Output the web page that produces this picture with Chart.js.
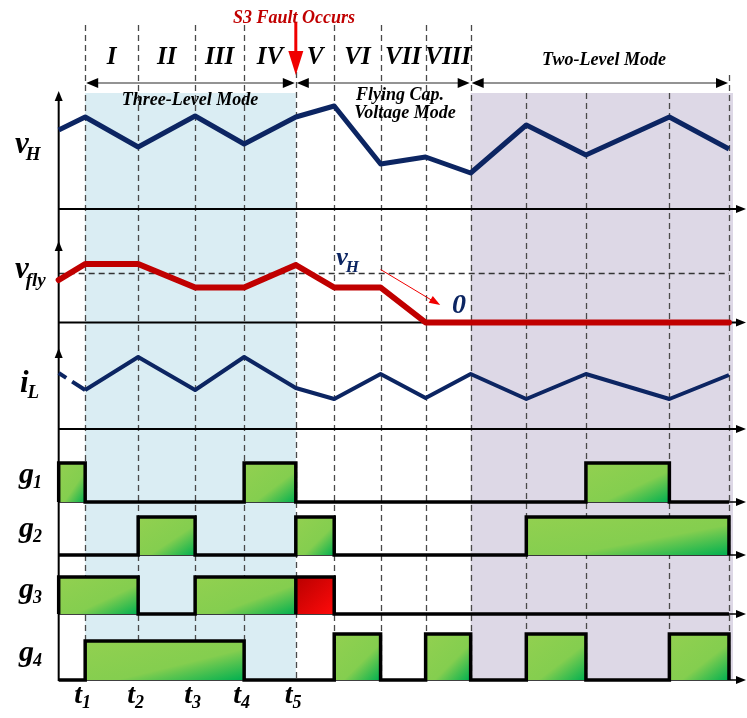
<!DOCTYPE html>
<html>
<head>
<meta charset="utf-8">
<script src="https://cdn.jsdelivr.net/npm/chart.js@4.4.1/dist/chart.umd.min.js"></script>
<style>
  html, body { margin: 0; padding: 0; background: #fff; }
  #wrap { width: 747px; height: 718px; }
</style>
</head>
<body>
<div id="wrap"><canvas id="timing" width="747" height="718"></canvas></div>
<script>
// Моменты переключения (границы интервалов I..VIII и далее), усл. ед. времени
const tMarks = [0, 1, 3, 5.15, 7, 8.95, 10.4, 12.15, 13.85, 15.55, 17.65, 19.9, 23.05, 25.3];
const intervalLabels = ['I', 'II', 'III', 'IV', 'V', 'VI', 'VII', 'VIII'];
const timeLabels = ['1', '2', '3', '4', '5'];

// Сигналы в точках tMarks
const vH = [7.9, 9.2, 6.2, 9.3, 6.5, 9.2, 10.3, 4.5, 5.2, 3.6, 8.4, 5.4, 9.2, 6.0];
const vFly = [4.25, 5.85, 5.85, 3.5, 3.5, 5.75, 3.5, 3.5, 0, 0, 0, 0, 0, 0];
const iL = [5.6, 3.9, 7.2, 3.9, 7.2, 4.1, 3.0, 5.5, 3.1, 5.5, 3.0, 5.5, 3.0, 5.4];
const vFlyRef = 4.9;

// Импульсы управления: [начало, конец, уровень]
const g1Pulses = [[0, 1, 1], [7, 8.95, 1], [19.9, 23.05, 1]];
const g2Pulses = [[3, 5.15, 1], [8.95, 10.4, 1], [17.65, 25.3, 1]];
const g3Pulses = [[0, 3, 1], [5.15, 8.95, 1]];
const g3FaultPulses = [[8.95, 10.4, 1]];
const g4Pulses = [[1, 7, 1], [10.4, 12.15, 1.18], [13.85, 15.55, 1.18], [17.65, 19.9, 1.18], [23.05, 25.3, 1.18]];

// Режимы работы
const modeNames = ['Three-Level Mode', 'Flying Cap. Voltage Mode', 'Two-Level Mode'];
const modeEdges = [1, 8.95, 15.55, 25.3];
const faultTime = 8.95;

// Разметка (пиксели холста)
const W = 747, H = 718;
const rows = {
  yVH: { base: 209, unit: 10, tip: 91 },
  yFly: { base: 322.5, unit: 10, tip: 241 },
  yIL: { base: 429, unit: 10, tip: 348 },
  yG1: { base: 502, unit: 39 },
  yG2: { base: 555, unit: 38 },
  yG3: { base: 614, unit: 37 },
  yG4: { base: 680, unit: 39 },
};

const NAVY = '#0C2562';
const RED = '#C00000';
const FONT = '"Liberation Serif", "Times New Roman", serif';

function toPoints(values) {
  return values.map((v, i) => ({ x: tMarks[i], y: v }));
}

function stepWave(pulses, end) {
  const pts = [{ x: tMarks[0], y: 0 }];
  pulses.forEach(([s, e, lv]) => {
    pts.push({ x: s, y: 0 }, { x: s, y: lv }, { x: e, y: lv }, { x: e, y: 0 });
  });
  pts.push({ x: end, y: 0 });
  return pts;
}

function pulseGradient(context, p, axisId, stops) {
  const chart = context.chart;
  const xs = chart.scales.x;
  const ys = chart.scales[axisId];
  if (!chart.chartArea || !xs || !ys) return stops[0][1];
  const x0 = xs.getPixelForValue(p[0]);
  const x1 = xs.getPixelForValue(p[1]);
  const y0 = ys.getPixelForValue(p[2]);
  const y1 = ys.getPixelForValue(0);
  const w = x1 - x0, h = y1 - y0;
  const d = Math.hypot(w, h);
  const L = (2 * w * h) / d;
  const g = chart.ctx.createLinearGradient(x0, y0, x0 + (h / d) * L, y0 + (w / d) * L);
  stops.forEach(([o, c]) => g.addColorStop(o, c));
  return g;
}

const GREEN = [[0, '#92D050'], [0.6, '#84CE4F'], [1, '#00B050']];
const REDFILL = [[0, '#B80000'], [1, '#FF0A0A']];

function pulseSets(pulses, axisId, stops) {
  return pulses.map((p) => ({
    type: 'line',
    data: [{ x: p[0], y: 0 }, { x: p[0], y: p[2] }, { x: p[1], y: p[2] }, { x: p[1], y: 0 }],
    yAxisID: axisId,
    borderWidth: 0,
    pointRadius: 0,
    fill: 'origin',
    backgroundColor: (ctx) => pulseGradient(ctx, p, axisId, stops),
    order: 2,
  }));
}

function gateWave(pulses, axisId) {
  return {
    type: 'line',
    data: stepWave(pulses, tMarks[tMarks.length - 1]),
    yAxisID: axisId,
    borderColor: '#000',
    borderWidth: 3.5,
    borderJoinStyle: 'miter',
    pointRadius: 0,
    fill: false,
    order: 0,
  };
}

function rowAxis(r) {
  return { type: 'linear', display: false, min: (r.base - H) / r.unit, max: r.base / r.unit };
}

function arrowHead(ctx, x, y, dir, len, half, color) {
  ctx.save();
  ctx.fillStyle = color;
  ctx.beginPath();
  if (dir === 'right') { ctx.moveTo(x, y); ctx.lineTo(x - len, y - half); ctx.lineTo(x - len, y + half); }
  if (dir === 'left') { ctx.moveTo(x, y); ctx.lineTo(x + len, y - half); ctx.lineTo(x + len, y + half); }
  if (dir === 'up') { ctx.moveTo(x, y); ctx.lineTo(x - half, y + len); ctx.lineTo(x + half, y + len); }
  if (dir === 'down') { ctx.moveTo(x, y); ctx.lineTo(x - half, y - len); ctx.lineTo(x + half, y - len); }
  ctx.closePath();
  ctx.fill();
  ctx.restore();
}

function subText(ctx, main, sub, x, y, size, subSize, dy, color, kern) {
  ctx.fillStyle = color;
  ctx.textAlign = 'left';
  ctx.textBaseline = 'alphabetic';
  ctx.font = `italic bold ${size}px ${FONT}`;
  ctx.fillText(main, x, y);
  const w = ctx.measureText(main).width;
  ctx.font = `italic bold ${subSize}px ${FONT}`;
  ctx.fillText(sub, x + w + (kern || 0), y + dy);
}

// Фон, пунктиры, оси — под графиками
const backgroundLayer = {
  id: 'backgroundLayer',
  beforeDatasetsDraw(chart) {
    const { ctx, scales } = chart;
    const X = (t) => scales.x.getPixelForValue(t);
    const shadeTop = 93;
    const shadeBottom = scales.yG4.getPixelForValue(0);
    ctx.save();
    // зоны режимов
    ctx.fillStyle = '#DAEDF3';
    ctx.fillRect(X(modeEdges[0]), shadeTop, X(modeEdges[1]) - X(modeEdges[0]), shadeBottom - shadeTop);
    ctx.fillStyle = '#DDD8E6';
    ctx.fillRect(X(modeEdges[2]), shadeTop, X(modeEdges[3]) + 4 - X(modeEdges[2]), shadeBottom - shadeTop);

    // вертикальные пунктиры
    ctx.strokeStyle = '#4a4a4a';
    ctx.lineWidth = 1.3;
    ctx.setLineDash([6, 4]);
    tMarks.slice(1).forEach((t, k) => {
      const i = k + 1;
      let y0 = 25;
      if (t === faultTime) y0 = 72;
      if (i >= 10 && i <= 12) y0 = shadeTop;
      if (i === 13) y0 = 75;
      const x = Math.round(X(t)) + 0.5;
      ctx.beginPath();
      ctx.moveTo(x, y0);
      ctx.lineTo(x, shadeBottom);
      ctx.stroke();
    });

    // горизонтальный пунктир уровня vH/2
    const yRef = scales.yFly.getPixelForValue(vFlyRef);
    ctx.strokeStyle = '#333';
    ctx.beginPath();
    ctx.moveTo(X(tMarks[0]), yRef);
    ctx.lineTo(X(tMarks[13]), yRef);
    ctx.stroke();
    ctx.setLineDash([]);

    // оси
    const xAxis = X(tMarks[0]);
    const xEnd = W - 2;
    ctx.strokeStyle = '#000';
    ctx.lineWidth = 2;
    ctx.beginPath();
    ctx.moveTo(xAxis, rows.yVH.tip + 6);
    ctx.lineTo(xAxis, shadeBottom + 1);
    ctx.stroke();
    Object.keys(rows).forEach((id) => {
      const y = scales[id].getPixelForValue(0);
      ctx.lineWidth = id.startsWith('yG') ? 1.6 : 2;
      ctx.beginPath();
      ctx.moveTo(xAxis, y);
      ctx.lineTo(xEnd - 6, y);
      ctx.stroke();
    });
    ctx.restore();
  },
  afterDatasetsDraw(chart) {
    const { ctx, scales } = chart;
    const X = (t) => scales.x.getPixelForValue(t);
    const xAxis = X(tMarks[0]);
    ctx.save();

    // стрелки осей
    Object.keys(rows).forEach((id) => {
      const r = rows[id];
      const y = scales[id].getPixelForValue(0);
      arrowHead(ctx, W - 1, y, 'right', 10, 4, '#000');
      if (r.tip) arrowHead(ctx, xAxis, r.tip, 'up', 10, 4, '#000');
    });

    // стрелки режимов
    const yMode = 83;
    ctx.strokeStyle = '#6f6f6f';
    ctx.lineWidth = 1.5;
    for (let m = 0; m < modeNames.length; m++) {
      const a = X(modeEdges[m]), b = X(modeEdges[m + 1]);
      ctx.beginPath();
      ctx.moveTo(a + 4, yMode);
      ctx.lineTo(b - 4, yMode);
      ctx.stroke();
      arrowHead(ctx, a + 1, yMode, 'left', 12, 5, '#000');
      arrowHead(ctx, b - 1, yMode, 'right', 12, 5, '#000');
    }

    // стрелка аварии S3
    const xf = X(faultTime);
    ctx.strokeStyle = '#F00000';
    ctx.lineWidth = 3;
    ctx.beginPath();
    ctx.moveTo(xf, 22);
    ctx.lineTo(xf, 52);
    ctx.stroke();
    arrowHead(ctx, xf, 75, 'down', 24, 7.5, '#F00000');

    // подписи интервалов
    ctx.fillStyle = '#000';
    ctx.textAlign = 'center';
    ctx.textBaseline = 'middle';
    ctx.font = `italic bold 25px ${FONT}`;
    intervalLabels.forEach((lab, i) => {
      ctx.fillText(lab, (X(tMarks[i + 1]) + X(tMarks[i + 2])) / 2, 58);
    });

    // подписи режимов
    ctx.font = `italic bold 18px ${FONT}`;
    ctx.fillText(modeNames[0], 190, 100);
    ctx.fillText('Flying Cap.', 400, 95);
    ctx.fillText('Voltage Mode', 405, 113);
    ctx.fillText(modeNames[2], 604, 60);

    ctx.fillStyle = RED;
    ctx.fillText('S3 Fault Occurs', 294, 18);

    // подписи строк
    subText(ctx, 'v', 'H', 15, 153, 31, 19, 7, '#000', -3);
    subText(ctx, 'v', 'fly', 15, 278, 31, 19, 8, '#000', -3);
    subText(ctx, 'i', 'L', 20, 392, 31, 19, 6, '#000', -1);
    subText(ctx, 'g', '1', 19, 483, 30, 18, 5, '#000', -1);
    subText(ctx, 'g', '2', 19, 537, 30, 18, 5, '#000', -1);
    subText(ctx, 'g', '3', 19, 598, 30, 18, 5, '#000', -1);
    subText(ctx, 'g', '4', 19, 661, 30, 18, 5, '#000', -1);

    // моменты t1..t5
    timeLabels.forEach((s, i) => {
      subText(ctx, 't', s, X(tMarks[i + 1]) - 11, 703, 28, 18, 5, '#000', 0);
    });

    // vH и 0 на графике vfly
    const yRef = scales.yFly.getPixelForValue(vFlyRef);
    subText(ctx, 'v', 'H', X(10.4) + 2, yRef - 9, 26, 17, 7, NAVY, -2);
    ctx.strokeStyle = '#F00000';
    ctx.lineWidth = 1;
    const ax0 = X(tMarks[7]), ay0 = yRef - 4;
    const ax1 = X(14.4), ay1 = scales.yFly.getPixelForValue(1.75);
    ctx.beginPath();
    ctx.moveTo(ax0, ay0);
    ctx.lineTo(ax1 - 8, ay1 - 4.5);
    ctx.stroke();
    ctx.save();
    ctx.translate(ax1, ay1);
    ctx.rotate(Math.atan2(ay1 - ay0, ax1 - ax0));
    arrowHead(ctx, 0, 0, 'right', 11, 4, '#F00000');
    ctx.restore();
    ctx.fillStyle = NAVY;
    ctx.textAlign = 'left';
    ctx.font = `italic bold 28px ${FONT}`;
    ctx.fillText('0', X(14.85), scales.yFly.getPixelForValue(1.0));

    ctx.restore();
  },
};

const datasets = [
  gateWave(g1Pulses, 'yG1'),
  gateWave(g2Pulses, 'yG2'),
  gateWave(g3Pulses.concat(g3FaultPulses), 'yG3'),
  gateWave(g4Pulses, 'yG4'),
  {
    label: 'vH',
    data: toPoints(vH),
    yAxisID: 'yVH',
    borderColor: NAVY,
    borderWidth: 5,
    borderJoinStyle: 'round',
    pointRadius: 0,
    fill: false,
    order: 1,
  },
  {
    label: 'vfly',
    data: toPoints(vFly),
    yAxisID: 'yFly',
    borderColor: RED,
    borderWidth: 6,
    borderJoinStyle: 'round',
    borderCapStyle: 'round',
    pointRadius: 0,
    fill: false,
    order: 1,
  },
  {
    label: 'iL',
    data: toPoints(iL),
    yAxisID: 'yIL',
    borderColor: NAVY,
    borderWidth: 4,
    borderJoinStyle: 'round',
    pointRadius: 0,
    fill: false,
    order: 1,
    segment: {
      borderDash: (c) => (c.p0DataIndex === 0 ? [9, 7, 40] : undefined),
    },
  },
  ...pulseSets(g1Pulses, 'yG1', GREEN),
  ...pulseSets(g2Pulses, 'yG2', GREEN),
  ...pulseSets(g3Pulses, 'yG3', GREEN),
  ...pulseSets(g3FaultPulses, 'yG3', REDFILL),
  ...pulseSets(g4Pulses, 'yG4', GREEN),
];

const scales = { x: { type: 'linear', display: false, min: -2.215, max: 25.98 } };
Object.keys(rows).forEach((id) => { scales[id] = rowAxis(rows[id]); });

try {
  new Chart(document.getElementById('timing'), {
    type: 'line',
    data: { datasets },
    options: {
      responsive: false,
      devicePixelRatio: 1,
      animation: false,
      layout: { padding: 0, autoPadding: false },
      parsing: false,
      normalized: true,
      plugins: { legend: { display: false }, tooltip: { enabled: false } },
      elements: { line: { tension: 0 } },
      scales,
    },
    plugins: [backgroundLayer],
  });
} catch (error) {
  console.error('Ошибка создания графика:', error);
}
</script>
</body>
</html>
